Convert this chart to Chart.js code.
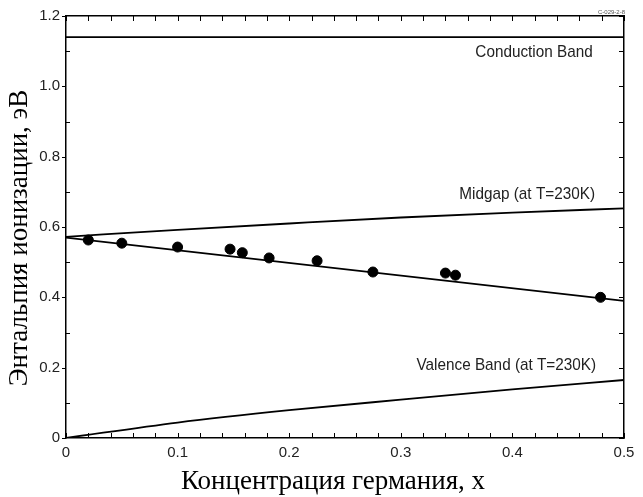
<!DOCTYPE html>
<html>
<head>
<meta charset="utf-8">
<script src="https://cdn.jsdelivr.net/npm/chart.js@4"></script>
<style>
  html, body { margin: 0; padding: 0; background: #fff; }
</style>
</head>
<body>
<canvas id="grafico" width="643" height="497"></canvas>
<script>
// концентрация Ge и энтальпия ионизации (точки)
let concentracao = [0.02, 0.05, 0.10, 0.147, 0.158, 0.182, 0.225, 0.275, 0.34, 0.349, 0.479];
let entalpia = [0.563, 0.554, 0.543, 0.537, 0.527, 0.512, 0.504, 0.472, 0.469, 0.463, 0.400];

// прямая аппроксимации
let ajusteX = [0, 0.5];
let ajusteY = [0.570, 0.390];

// зоны
let conducaoX = [0, 0.5];
let conducaoY = [1.14, 1.14];
let midgapX = [0, 0.1, 0.2, 0.3, 0.4, 0.5];
let midgapY = [0.572, 0.592, 0.610, 0.627, 0.641, 0.653];
let valenciaX = [0, 0.1, 0.2, 0.3, 0.4, 0.5];
let valenciaY = [0, 0.044, 0.079, 0.109, 0.138, 0.165];

let rotulos = ['Conduction Band', 'Midgap (at T=230K)', 'Valence Band (at T=230K)'];
let tituloX = 'Концентрация германия, x';
let tituloY = 'Энтальпия ионизации, эВ';

function pares(xs, ys) {
    let out = [];
    for (let i = 0; i < xs.length; i++) {
        out.push({ x: xs[i], y: ys[i] });
    }
    return out;
}

// засечки внутрь рамки + подписи
const marcas = {
    id: 'marcas',
    afterDraw(chart) {
        const { ctx, chartArea: a, scales: { x, y } } = chart;
        ctx.save();
        ctx.strokeStyle = '#000';
        ctx.lineWidth = 1;
        ctx.beginPath();
        for (let i = 0; i <= 25; i++) {
            let px = Math.round(x.getPixelForValue(i * 0.02)) + 0.5;
            ctx.moveTo(px, a.bottom); ctx.lineTo(px, a.bottom - 5);
            ctx.moveTo(px, a.top); ctx.lineTo(px, a.top + 5);
        }
        for (let i = 0; i <= 12; i++) {
            let py = Math.round(y.getPixelForValue(i * 0.1)) + 0.5;
            if (i % 2 == 0) {
                ctx.moveTo(a.left - 4, py); ctx.lineTo(a.left, py);
            } else {
                ctx.moveTo(a.left, py); ctx.lineTo(a.left + 4, py);
            }
            ctx.moveTo(a.right, py); ctx.lineTo(a.right - 5, py);
        }
        ctx.stroke();

        // подписи зон
        const pos = [[0.472, 1.0975], [0.474, 0.694], [0.475, 0.2075]];
        ctx.fillStyle = '#222';
        ctx.font = '17px "Liberation Sans", Arial, sans-serif';
        ctx.textAlign = 'right';
        ctx.textBaseline = 'middle';
        for (let i = 0; i < rotulos.length; i++) {
            ctx.save();
            ctx.translate(x.getPixelForValue(pos[i][0]), y.getPixelForValue(pos[i][1]));
            ctx.scale(0.9, 1);
            ctx.fillText(rotulos[i], 0, 0);
            ctx.restore();
        }
        ctx.font = '6px "Liberation Sans", sans-serif';
        ctx.fillStyle = '#555';
        ctx.fillText('C-029-2-8', a.right + 1, a.top - 4);

        // названия осей
        ctx.fillStyle = '#000';
        ctx.textAlign = 'center';
        ctx.font = '27px "Liberation Serif", "Times New Roman", serif';
        ctx.fillText(tituloX, 333, 482);
        ctx.save();
        ctx.translate(20, 238);
        ctx.rotate(-Math.PI / 2);
        ctx.fillText(tituloY, 0, 0);
        ctx.restore();
        ctx.restore();
    }
};

const linha = (dados) => ({
    data: dados,
    showLine: true,
    borderColor: '#000',
    borderWidth: 1.8,
    pointRadius: 0,
    tension: 0.4,
    cubicInterpolationMode: 'monotone',
    fill: false
});

const ctx = document.getElementById('grafico');
new Chart(ctx, {
    type: 'scatter',
    data: {
        datasets: [
            linha(pares(conducaoX, conducaoY)),
            linha(pares(midgapX, midgapY)),
            linha(pares(valenciaX, valenciaY)),
            linha(pares(ajusteX, ajusteY)),
            {
                data: pares(concentracao, entalpia),
                backgroundColor: '#000',
                borderColor: '#000',
                pointRadius: 5,
                pointHoverRadius: 5
            }
        ]
    },
    options: {
        responsive: false,
        animation: false,
        devicePixelRatio: 1,
        layout: { padding: { left: 0, right: 19, top: 16, bottom: 0 } },
        plugins: { legend: { display: false }, tooltip: { enabled: false } },
        scales: {
            x: {
                type: 'linear',
                min: 0, max: 0.5,
                afterFit: (s) => { s.height = 59; },
                grid: { display: false, drawTicks: false },
                border: { display: true, color: '#000', width: 1.5 },
                ticks: {
                    stepSize: 0.1,
                    padding: 6,
                    color: '#222',
                    font: { family: '"Liberation Sans", Arial, sans-serif', size: 15 },
                    callback: (v) => v == 0 ? '0' : v.toFixed(1)
                }
            },
            y: {
                type: 'linear',
                min: 0, max: 1.2,
                afterFit: (s) => { s.width = 66; },
                grid: { display: false, drawTicks: false },
                border: { display: true, color: '#000', width: 1.5 },
                ticks: {
                    stepSize: 0.2,
                    padding: 6,
                    color: '#222',
                    font: { family: '"Liberation Sans", Arial, sans-serif', size: 15 },
                    callback: (v) => v == 0 ? '0' : v.toFixed(1)
                }
            },
            x2: {
                type: 'linear', position: 'top', min: 0, max: 0.5,
                afterFit: (s) => { s.height = 0; },
                ticks: { display: false }, grid: { display: false, drawTicks: false },
                border: { display: true, color: '#000', width: 1.5 }
            },
            y2: {
                type: 'linear', position: 'right', min: 0, max: 1.2,
                afterFit: (s) => { s.width = 0; },
                ticks: { display: false }, grid: { display: false, drawTicks: false },
                border: { display: true, color: '#000', width: 1.5 }
            }
        }
    },
    plugins: [marcas]
});
</script>
</body>
</html>
